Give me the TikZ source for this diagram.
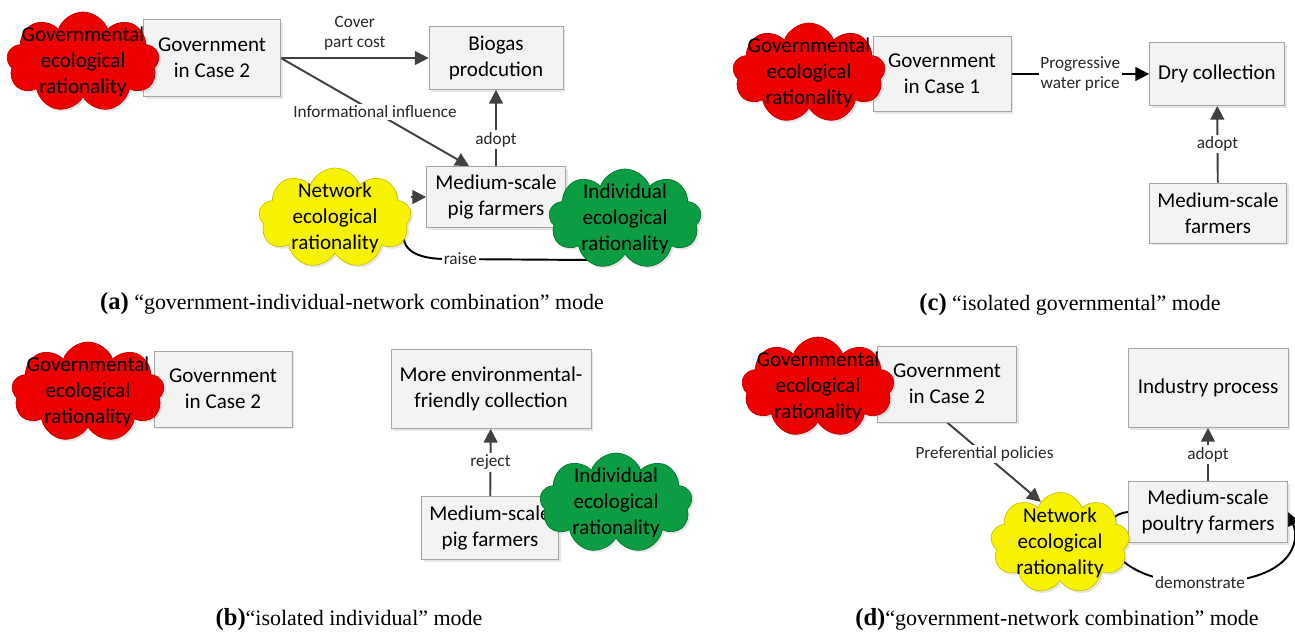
\documentclass[tikz,border=0pt]{standalone}
\usepackage{fontspec}
\setmainfont{Carlito}
\newfontfamily\capfont{Liberation Serif}
\usetikzlibrary{arrows.meta, positioning, shapes.symbols, backgrounds, shadows}
\definecolor{cloudred}{RGB}{236,0,0}
\definecolor{cloudredline}{RGB}{190,0,0}
\definecolor{cloudyellow}{RGB}{246,242,0}
\definecolor{cloudyellowline}{RGB}{205,195,0}
\definecolor{cloudgreen}{RGB}{12,156,66}
\definecolor{cloudgreenline}{RGB}{0,118,48}
\definecolor{boxfill}{RGB}{243,243,243}
\definecolor{boxline}{RGB}{165,165,165}
\definecolor{arrowgray}{RGB}{64,64,64}

\tikzset{
  box/.style={draw=boxline, fill=boxfill, align=center, inner sep=2pt,
    font=\fontsize{12}{15}\selectfont,
    drop shadow={opacity=0.2, shadow xshift=1.2pt, shadow yshift=-1.2pt}},
  rationality/.style={cloud, cloud puffs=9, cloud puff arc=140, cloud ignores aspect,
    minimum width=3.05cm, minimum height=2cm,
    drop shadow={opacity=0.2, shadow xshift=1.2pt, shadow yshift=-1.2pt}},
  redcloud/.style={rationality, fill=cloudred, draw=cloudredline},
  yellowcloud/.style={rationality, fill=cloudyellow, draw=cloudyellowline},
  greencloud/.style={rationality, fill=cloudgreen, draw=cloudgreenline},
  cloudtext/.style={align=center, inner sep=0pt, font=\fontsize{12}{15}\selectfont},
  edgelabel/.style={font=\fontsize{9.8}{11.4}\selectfont, inner sep=1pt, text=black!85, align=center},
  onedge/.style={edgelabel, fill=white},
  conn/.style={arrowgray, line width=1.1pt},
  arr/.style={conn, -{Triangle[length=7.8pt, width=7.8pt]}},
  caption/.style={font=\capfont\fontsize{12.5}{15}\selectfont, inner sep=0pt},
}
\newcommand{\panel}[1]{{\fontsize{14}{15}\selectfont\bfseries(#1)}}

\begin{document}
\begin{tikzpicture}[x=0.02cm, y=-0.02cm]
  \useasboundingbox (0,0) rectangle (1295,633);

  \node[box, minimum width=2.74cm, minimum height=1.54cm] (gov-a) at (212,58) {Government\\in Case 2};
  \node[box, minimum width=2.68cm, minimum height=1.26cm] (biogas-a) at (496,58) {Biogas\\prodcution};
  \node[box, minimum width=2.78cm, minimum height=1.22cm] (medium-a) at (496,197) {Medium-scale\\pig farmers};
  \node[redcloud] (govrat-a) at (83,62) {};
  \node[yellowcloud] (netrat-a) at (335,218) {};
  \node[greencloud] (indrat-a) at (625,219) {};
  \node[cloudtext] (govrat-a-t) at (govrat-a) {Governmental\\ecological\\rationality};
  \node[cloudtext] (netrat-a-t) at (netrat-a) {Network\\ecological\\rationality};
  \node[cloudtext] (indrat-a-t) at (indrat-a) {Individual\\ecological\\rationality};
  \coordinate (raise-end) at (590,260);

  \node[box, minimum width=2.76cm, minimum height=1.5cm] (gov-c) at (942,74) {Government\\in Case 1};
  \node[box, minimum width=2.7cm, minimum height=1.26cm] (dry-c) at (1217,74) {Dry collection};
  \node[box, minimum width=2.74cm, minimum height=1.2cm] (farmers-c) at (1218,213) {Medium-scale\\farmers};
  \node[redcloud] (govrat-c) at (809,73) {};
  \node[cloudtext] (govrat-c-t) at (govrat-c) {Governmental\\ecological\\rationality};

  \node[box, minimum width=2.76cm, minimum height=1.52cm] (gov-b) at (223,389) {Government\\in Case 2};
  \node[box, minimum width=4cm, minimum height=1.58cm] (env-b) at (491,389) {More environmental-\\friendly collection};
  \node[box, minimum width=2.74cm, minimum height=1.26cm] (medium-b) at (490,528) {Medium-scale\\pig farmers};
  \node[redcloud] (govrat-b) at (88,392) {};
  \node[greencloud] (indrat-b) at (616,503) {};
  \node[cloudtext] (govrat-b-t) at (govrat-b) {Governmental\\ecological\\rationality};
  \node[cloudtext] (indrat-b-t) at (indrat-b) {Individual\\ecological\\rationality};

  \node[box, minimum width=2.78cm, minimum height=1.52cm] (gov-d) at (947,384) {Government\\in Case 2};
  \node[box, minimum width=3.2cm, minimum height=1.58cm] (industry-d) at (1208,388) {Industry process};
  \node[box, minimum width=3.18cm, minimum height=1.22cm] (poultry-d) at (1208,512) {Medium-scale\\poultry farmers};
  \node[redcloud] (govrat-d) at (818,387) {};
  \node[yellowcloud, minimum width=2.78cm, minimum height=2.02cm] (netrat-d) at (1060,543) {};
  \node[cloudtext] (govrat-d-t) at (govrat-d) {Governmental\\ecological\\rationality};
  \node[cloudtext] (netrat-d-t) at (netrat-d) {Network\\ecological\\rationality};
  \coordinate (demo-mid) at (1200,583);

  \begin{scope}[on background layer]
    \draw[arr] (gov-a.east) -- (biogas-a.west) node[midway, above=3pt, edgelabel] {Cover\\part cost};
    \draw[arr] (gov-a.east) -- ([xshift=0.86cm]medium-a.north west) node[midway, onedge] {Informational influence};
    \draw[arr] (medium-a) -- (biogas-a) node[pos=0.35, onedge] {adopt};
    \draw[arr] (netrat-a.east |- medium-a.west) -- (medium-a.west);
    \draw[conn, black] ([shift={(-0.14cm,-0.36cm)}]netrat-a.east) to[out=-90, in=180] (446,259)
      -- node[pos=0.1, onedge] {raise} (raise-end);

    \draw[arr, black] (gov-c) -- (dry-c) node[midway, onedge] {Progressive\\water price};
    \draw[arr] (farmers-c) -- (dry-c) node[midway, onedge] {adopt};

    \draw[arr] (medium-b) -- (env-b) node[midway, onedge] {reject};

    \draw[arr] (gov-d.south) -- (netrat-d.115) node[pos=0.4, onedge] {Preferential policies};
    \draw[arr] (poultry-d) -- (industry-d) node[midway, onedge] {adopt};
    \draw[arr, black] (poultry-d.west) .. controls (1090,515) and (1100,583) .. (demo-mid)
      node[onedge] {demonstrate}
      .. controls (1295,583) and (1300,540) .. (poultry-d.east);
  \end{scope}

  \node[caption] (cap-a) at (352,304) {\panel{a} “government-individual-network combination” mode};
  \node[caption] (cap-c) at (1070,305) {\panel{c}\ “isolated governmental” mode};
  \node[caption] (cap-b) at (349,620) {\panel{b}“isolated individual” mode};
  \node[caption] (cap-d) at (1057,620) {\panel{d}“government-network combination” mode};
\end{tikzpicture}
\end{document}
